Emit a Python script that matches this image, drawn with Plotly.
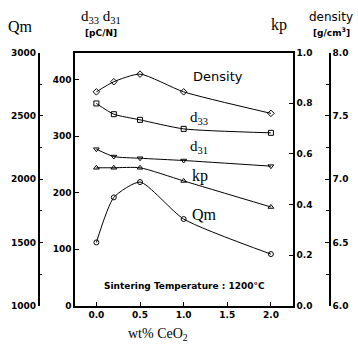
import plotly.graph_objects as go

x_ceo2 = [0.0, 0.2, 0.5, 1.0, 2.0]
density = [7.69, 7.77, 7.83, 7.69, 7.52]
d33 = [358, 339, 329, 313, 306]
d31 = [277, 264, 261, 257, 247]
kp = [0.545, 0.545, 0.545, 0.493, 0.39]
qm = [1500, 1856, 1977, 1685, 1408]

W, H = 358, 352
def px(x): return x / W
def py(y): return 1 - y / H

xdom = [px(75), px(293)]
ydom = [py(309.5), py(49)]

fig = go.Figure()
mk = dict(color="black", size=5, line=dict(width=1, color="black"))
line = dict(color="black", width=1, shape="spline", smoothing=0.6)

fig.add_trace(go.Scatter(x=x_ceo2, y=density, yaxis="y4", mode="lines+markers",
                         marker=dict(symbol="diamond-open", **mk), line=line))
fig.add_trace(go.Scatter(x=x_ceo2, y=d33, yaxis="y", mode="lines+markers",
                         marker=dict(symbol="square-open", **mk), line=line))
fig.add_trace(go.Scatter(x=x_ceo2, y=d31, yaxis="y", mode="lines+markers",
                         marker=dict(symbol="triangle-down-open", **mk), line=line))
fig.add_trace(go.Scatter(x=x_ceo2, y=kp, yaxis="y3", mode="lines+markers",
                         marker=dict(symbol="triangle-up-open", **mk), line=line))
fig.add_trace(go.Scatter(x=x_ceo2, y=qm, yaxis="y2", mode="lines+markers",
                         marker=dict(symbol="circle-open", **mk), line=line))

tf = dict(family="DejaVu Sans", size=9, color="black", weight="bold")
common = dict(showline=True, linecolor="black", linewidth=1.5, ticks="inside",
              ticklen=4, tickcolor="black", showgrid=False, zeroline=False,
              tickfont=tf)

fig.update_layout(
    width=W, height=H, margin=dict(l=0, r=0, t=0, b=0),
    paper_bgcolor="white", plot_bgcolor="white", showlegend=False,
    xaxis=dict(domain=xdom, range=[-0.245, 2.253], tickvals=[0, 0.5, 1.0, 1.5, 2.0],
               ticktext=["0.0", "0.5", "1.0", "1.5", "2.0"], mirror=True, anchor="y",
               **common),
    yaxis=dict(domain=ydom, range=[0, 448], tickvals=[0, 100, 200, 300, 400],
               side="left", anchor="x", **common),
    yaxis2=dict(range=[1000, 3000], tickvals=[1000, 1500, 2000, 2500, 3000],
                overlaying="y", anchor="free", position=px(38.5), side="left",
                minor=dict(ticks="inside", ticklen=3, dtick=250, tickcolor="black"),
                **common),
    yaxis3=dict(range=[0, 1.0], tickvals=[0, 0.2, 0.4, 0.6, 0.8, 1.0],
                ticktext=["0.0", "0.2", "0.4", "0.6", "0.8", "1.0"],
                overlaying="y", anchor="x", side="right", **common),
    yaxis4=dict(range=[6.0, 8.0], tickvals=[6.0, 6.5, 7.0, 7.5, 8.0],
                ticktext=["6.0", "6.5", "7.0", "7.5", "8.0"],
                overlaying="y", anchor="free", position=px(330), side="right",
                minor=dict(ticks="inside", ticklen=3, dtick=0.25, tickcolor="black"),
                **common),
)

def ann(text, x, y, size, family="DejaVu Sans", weight="normal", xanchor="center"):
    fig.add_annotation(text=text, x=px(x), y=py(y), xref="paper", yref="paper",
                       showarrow=False, xanchor=xanchor, yanchor="middle",
                       font=dict(family=family, size=size, color="black", weight=weight))

ann("Qm", 20, 22, 16, family="Liberation Serif")
ann("d<sub>33</sub> d<sub>31</sub>", 101, 12, 15, family="Liberation Serif")
ann("[pC/N]", 101, 29, 9, weight="bold")
ann("kp", 279, 21, 16, family="Liberation Serif")
ann("density", 331, 12, 12, family="DejaVu Sans")
ann("[g/cm<sup>3</sup>]", 331, 28, 9, weight="bold")

ann("Density", 191, 74, 13, family="DejaVu Sans", xanchor="left")
ann("d<sub>33</sub>", 188, 116, 15, family="Liberation Serif", xanchor="left")
ann("d<sub>31</sub>", 188, 146, 15, family="Liberation Serif", xanchor="left")
ann("kp", 190, 176, 16, family="Liberation Serif", xanchor="left")
ann("Qm", 190, 216, 16, family="Liberation Serif", xanchor="left")
ann("Sintering Temperature : 1200°C", 184, 289, 9, weight="bold")
ann("wt% CeO<sub>2</sub>", 158, 339, 14, family="Liberation Serif")

fig.write_html("out.html")
